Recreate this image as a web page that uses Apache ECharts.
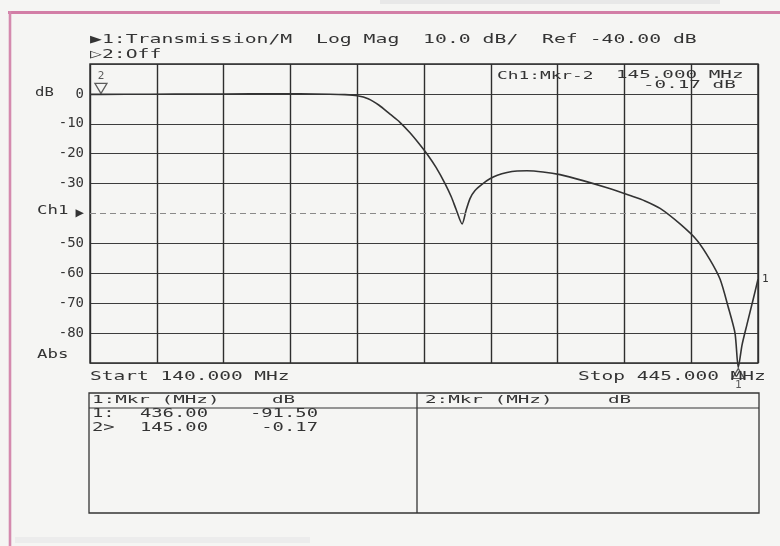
<!DOCTYPE html>
<html>
<head>
<meta charset="utf-8">
<title>Transmission / Log Mag</title>
<script src="https://cdn.jsdelivr.net/npm/echarts@6/dist/echarts.min.js"></script>
<style>
  html, body { margin: 0; padding: 0; background: #f5f5f3; }
  #chart { width: 780px; height: 546px; }
</style>
</head>
<body>
<div id="chart"></div>
<script>
// Sweep settings
const startFreq = 140.0;   // MHz
const stopFreq = 445.0;    // MHz
const refLevel = -40.0;    // dB
const scalePerDiv = 10.0;  // dB/div

// Measured transmission trace (MHz, dB)
const freqMHz = [
  140.0, 145.0, 167.4, 190.2, 213.1, 235.9, 249.6, 256.4, 262.0, 267.0,
  272.0, 277.0, 281.5, 286.0, 290.0, 293.9, 298.0, 302.1, 305.0, 307.1,
  309.9, 311.7, 313.5, 315.8, 319.4, 322.6, 326.0, 330.4, 335.0, 339.5,
  346.8, 354.6, 365.1, 376.1, 386.6, 393.4, 400.3, 409.4, 417.2, 423.1,
  427.7, 431.3, 434.5, 436.0, 437.7, 440.0, 442.7, 445.0
];
const traceDb = [
  -0.15, -0.17, -0.1, -0.05, 0.0, 0.0, -0.1, -0.25, -0.6, -1.6,
  -3.8, -6.8, -9.5, -12.9, -16.4, -20.1, -24.6, -30.0, -34.5, -38.5,
  -43.5, -39.0, -35.0, -32.3, -30.0, -28.4, -27.2, -26.3, -25.8, -25.7,
  -26.1, -27.0, -29.0, -31.4, -34.0, -35.8, -38.3, -43.5, -49.0, -55.5,
  -62.0, -71.0, -80.0, -91.5, -84.0, -77.0, -69.0, -62.0
];

// Markers
const markerIds = [1, 2];
const markerFreq = [436.00, 145.00];
const markerDb = [-91.50, -0.17];
const activeMarker = 2;

// Amplitude tick labels, top (+10 dB) to bottom (-90 dB)
const dbTickValues = [10, 0, -10, -20, -30, -40, -50, -60, -70, -80, -90];
const dbTickLabels = ['', '0', '-10', '-20', '-30', '\u25B6', '-50', '-60', '-70', '-80', ''];

const INK = '#343434';
const FONT = '"DejaVu Sans Mono", "Liberation Mono", monospace';

function txt(x, y, s, size, sx, align) {
  return {
    type: 'text', x: x, y: y, scaleX: sx, silent: true, z: 10,
    style: { text: s, fill: INK, font: size + 'px ' + FONT, align: align || 'left', verticalAlign: 'middle' }
  };
}
function hline(x1, x2, y, w, c) {
  return { type: 'line', silent: true, shape: { x1: x1, y1: y, x2: x2, y2: y }, style: { stroke: c || INK, lineWidth: w || 1.2 } };
}
function vline(x, y1, y2, w, c) {
  return { type: 'line', silent: true, shape: { x1: x, y1: y1, x2: x, y2: y2 }, style: { stroke: c || INK, lineWidth: w || 1.2 } };
}

const fmt2 = v => v.toFixed(2);
const fmt3 = v => v.toFixed(3);
const ai = markerIds.indexOf(activeMarker);

const header1 = '\u25B61:Transmission/M  Log Mag  ' + scalePerDiv.toFixed(1) + ' dB/  Ref ' + fmt2(refLevel) + ' dB';
const header2 = '\u25B72:Off';

const chart = echarts.init(document.getElementById('chart'), null, { renderer: 'canvas' });

const traceData = freqMHz.map((f, i) => [f, traceDb[i]]);
const markerData = markerIds.map((id, i) => {
  const up = markerDb[i] < -60;
  return {
    value: [markerFreq[i], markerDb[i]],
    symbol: 'triangle',
    symbolSize: [12, 10],
    symbolRotate: up ? 0 : 180,
    symbolOffset: [0, up ? 6 : -6],
    label: { show: true, formatter: String(id), position: up ? 'bottom' : 'top', distance: 1 }
  };
});

// Tick-value -> label lookup
const labelFor = {};
dbTickValues.forEach((v, i) => { labelFor[v] = dbTickLabels[i]; });

// Split-line colours from the bottom tick upward; the reference level line is drawn dashed separately
const splitColors = dbTickValues.slice().reverse().map(v => (v === refLevel ? 'rgba(0,0,0,0)' : '#3c3c3c'));

chart.setOption({
  backgroundColor: '#f5f5f3',
  animation: false,
  grid: { left: 90, right: 22, top: 64, bottom: 183, show: true, borderColor: '#2e2e2e', borderWidth: 1.4, backgroundColor: 'transparent' },
  xAxis: [
    { type: 'value', min: startFreq, max: stopFreq, show: false },
    {
      type: 'value', min: 0, max: 10, interval: 1, position: 'bottom',
      axisLine: { show: false }, axisTick: { show: false }, axisLabel: { show: false },
      splitLine: { show: true, lineStyle: { color: '#2e2e2e', width: 1.4 } }
    }
  ],
  yAxis: {
    type: 'value', min: -90, max: 10, interval: 10,
    axisLine: { show: false }, axisTick: { show: false },
    axisLabel: {
      margin: 6, color: INK, fontFamily: FONT, fontSize: 14,
      formatter: v => (labelFor[v] !== undefined ? labelFor[v] : '')
    },
    splitLine: { show: true, lineStyle: { color: splitColors, width: 1.2 } }
  },
  series: [
    {
      type: 'line', xAxisIndex: 0, data: traceData, smooth: 0.25, symbol: 'none', clip: false,
      lineStyle: { color: '#333', width: 1.6 },
      endLabel: { show: true, formatter: '1', distance: 4, color: INK, fontFamily: FONT, fontSize: 11 },
      markLine: {
        silent: true, symbol: 'none', label: { show: false },
        lineStyle: { color: '#8a8a8a', type: [6, 4], width: 1.2 },
        data: [{ yAxis: refLevel }]
      },
      z: 3
    },
    {
      type: 'scatter', xAxisIndex: 0, data: markerData, clip: false,
      itemStyle: { color: 'rgba(0,0,0,0)', borderColor: INK, borderWidth: 1.3 },
      label: { color: INK, fontFamily: FONT, fontSize: 11 },
      z: 4
    }
  ],
  graphic: [
    // paper frame
    { type: 'rect', silent: true, shape: { x: 380, y: 0, width: 340, height: 4 }, style: { fill: '#e8e8e8' } },
    { type: 'rect', silent: true, shape: { x: 15, y: 537, width: 295, height: 6 }, style: { fill: '#ececec' } },
    hline(8, 780, 12.5, 3, '#d27ea6'),
    vline(10, 11, 546, 2.6, '#d48aae'),

    // header lines
    txt(90, 40, header1, 13, 1.52),
    txt(90, 55, header2, 13, 1.52),

    // axis annotations
    txt(35, 93, 'dB', 12, 1.3),
    txt(37, 211, 'Ch1', 12, 1.45),
    txt(37, 355, 'Abs', 12, 1.45),

    // active marker readout
    txt(497, 76, 'Ch1:Mkr-' + activeMarker, 11, 1.62),
    txt(616, 75, fmt3(markerFreq[ai]) + ' MHz', 11, 1.75),
    txt(643, 85, fmt2(markerDb[ai]) + ' dB', 11, 1.75),

    // sweep range
    txt(90, 377, 'Start ' + fmt3(startFreq) + ' MHz', 13, 1.5),
    txt(578, 377, 'Stop ' + fmt3(stopFreq) + ' MHz', 13, 1.5),

    // marker table
    { type: 'rect', silent: true, shape: { x: 89, y: 393, width: 670, height: 120 }, style: { fill: 'none', stroke: INK, lineWidth: 1.3 } },
    hline(89, 759, 408, 1.2),
    vline(417, 393, 513, 1.3),
    txt(92, 400, '1:Mkr (MHz)', 11, 1.75),
    txt(272, 400, 'dB', 11, 1.75),
    txt(425, 400, '2:Mkr (MHz)', 11, 1.75),
    txt(608, 400, 'dB', 11, 1.75),
    txt(92, 414, markerIds[0] + ':', 13, 1.45),
    txt(208, 414, fmt2(markerFreq[0]), 13, 1.45, 'right'),
    txt(318, 414, fmt2(markerDb[0]), 13, 1.45, 'right'),
    txt(92, 428, markerIds[1] + '>', 13, 1.45),
    txt(208, 428, fmt2(markerFreq[1]), 13, 1.45, 'right'),
    txt(318, 428, fmt2(markerDb[1]), 13, 1.45, 'right')
  ]
});
</script>
</body>
</html>
